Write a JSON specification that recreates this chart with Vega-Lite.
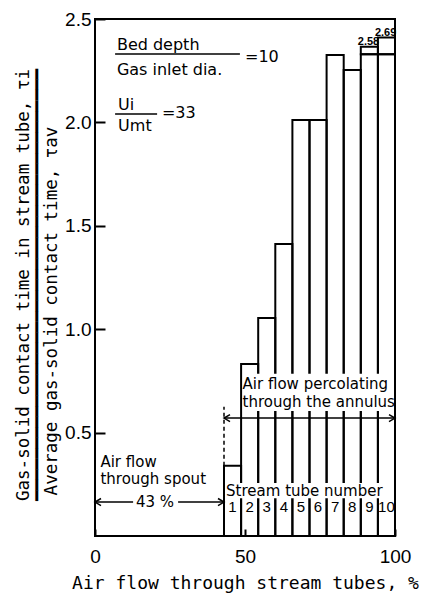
{
  "$schema": "https://vega.github.io/schema/vega-lite/v6.json",
  "width": 300,
  "height": 517,
  "autosize": {"type": "none"},
  "padding": {"left": 95, "top": 19, "right": 28, "bottom": 59},
  "background": "white",
  "config": {
    "view": {"stroke": "black", "strokeWidth": 2},
    "axis": {"grid": false, "domain": false, "tickColor": "black", "labelColor": "black", "titleColor": "black", "tickWidth": 2}
  },
  "datasets": {
    "tubes": [
      {"tube": 1, "x0": 43.0, "x1": 48.7, "tau": 0.34, "shown": 0.34},
      {"tube": 2, "x0": 48.7, "x1": 54.4, "tau": 0.832, "shown": 0.832},
      {"tube": 3, "x0": 54.4, "x1": 60.1, "tau": 1.054, "shown": 1.054},
      {"tube": 4, "x0": 60.1, "x1": 65.8, "tau": 1.412, "shown": 1.412},
      {"tube": 5, "x0": 65.8, "x1": 71.5, "tau": 2.012, "shown": 2.012},
      {"tube": 6, "x0": 71.5, "x1": 77.2, "tau": 2.012, "shown": 2.012},
      {"tube": 7, "x0": 77.2, "x1": 82.9, "tau": 2.326, "shown": 2.326},
      {"tube": 8, "x0": 82.9, "x1": 88.6, "tau": 2.253, "shown": 2.253},
      {"tube": 9, "x0": 88.6, "x1": 94.3, "tau": 2.58, "shown": 2.33},
      {"tube": 10, "x0": 94.3, "x1": 100.0, "tau": 2.69, "shown": 2.33}
    ],
    "breaks": [
      {"tube": 9, "x0": 88.6, "x1": 94.3, "lo": 2.33, "hi": 2.366, "label": "2.58"},
      {"tube": 10, "x0": 94.3, "x1": 100.0, "lo": 2.33, "hi": 2.41, "label": "2.69"}
    ],
    "bands": [
      {"x0": 49.3, "x1": 99.4, "y0": 0.605, "y1": 0.785},
      {"x0": 43.7, "x1": 99.4, "y0": 0.182, "y1": 0.256}
    ],
    "hlines": [
      {"x": 6.7, "x2": 48.3, "y": 2.331},
      {"x": 6.7, "x2": 20.7, "y": 2.041},
      {"x": 0, "x2": 12.7, "y": 0.164},
      {"x": 27.7, "x2": 43, "y": 0.164},
      {"x": 43, "x2": 100, "y": 0.57}
    ],
    "vlines": [
      {"x": 43, "y": 0.34, "y2": 0.625}
    ],
    "heads": [
      {"x": 0, "y": 0.164, "dir": "left"},
      {"x": 43, "y": 0.164, "dir": "right"},
      {"x": 43, "y": 0.57, "dir": "left"},
      {"x": 100, "y": 0.57, "dir": "right"}
    ],
    "notes16": [
      {"t": "Bed depth", "x": 7.3, "y": 2.35},
      {"t": "Gas inlet dia.", "x": 7.3, "y": 2.229},
      {"t": "=10", "x": 50.0, "y": 2.292},
      {"t": "Ui", "x": 7.7, "y": 2.06},
      {"t": "Umt", "x": 7.7, "y": 1.958},
      {"t": "=33", "x": 22.3, "y": 2.021}
    ],
    "notes15": [
      {"t": "Air flow", "x": 1.8, "y": 0.334},
      {"t": "through spout", "x": 1.8, "y": 0.251},
      {"t": "Air flow percolating", "x": 49.2, "y": 0.711},
      {"t": "through the annulus", "x": 49.2, "y": 0.624},
      {"t": "Stream tube number", "x": 43.7, "y": 0.193}
    ],
    "centered": [
      {"t": "43 %", "x": 20, "y": 0.164}
    ]
  },
  "layer": [
    {
      "data": {"name": "tubes"},
      "mark": {"type": "rect", "fillOpacity": 0, "stroke": "black", "strokeWidth": 2},
      "encoding": {
        "x": {
          "field": "x0", "type": "quantitative",
          "scale": {"domain": [0, 100], "nice": false},
          "axis": {
            "values": [0, 50, 100], "offset": -7, "tickSize": 7, "labelPadding": 11, "labelFlush": false,
            "labelFont": "Liberation Sans", "labelFontSize": 19,
            "title": "Air flow through stream tubes, %",
            "titleFont": "DejaVu Sans Mono", "titleFontSize": 18, "titleFontWeight": "normal",
            "titleBaseline": "alphabetic", "titleY": 59
          }
        },
        "x2": {"field": "x1"},
        "y": {
          "field": "shown", "type": "quantitative",
          "scale": {"domain": [0, 2.5], "nice": false},
          "axis": {
            "values": [0.5, 1, 1.5, 2, 2.5], "format": ".1f", "offset": -10, "tickSize": 10, "labelPadding": 4,
            "labelFont": "Liberation Sans", "labelFontSize": 19,
            "title": ["Gas-solid contact time in stream tube, τi", "━━━━━━━━━━━━━━━━━━━━━━━━━━━━━━━━━━━━━━━━━", "Average gas-solid contact time, τav⠀⠀⠀⠀"],
            "titleFont": "DejaVu Sans Mono", "titleFontSize": 17.5, "titleFontWeight": "normal",
            "titleLineHeight": 14, "titleAngle": -90, "titleBaseline": "alphabetic", "titleAlign": "center",
            "titleX": -77, "titleY": 265.5
          }
        },
        "y2": {"datum": 0}
      }
    },
    {
      "data": {"name": "breaks"},
      "mark": {"type": "rect", "fillOpacity": 0, "stroke": "black", "strokeWidth": 2},
      "encoding": {
        "x": {"field": "x0", "type": "quantitative", "scale": {"domain": [0, 100], "nice": false}},
        "x2": {"field": "x1"},
        "y": {"field": "lo", "type": "quantitative", "scale": {"domain": [0, 2.5], "nice": false}},
        "y2": {"field": "hi"}
      }
    },
    {
      "data": {"name": "breaks"},
      "mark": {"type": "text", "align": "left", "baseline": "alphabetic", "dx": -3, "dy": -2, "font": "Liberation Sans", "fontSize": 11, "fontWeight": "bold", "color": "black"},
      "encoding": {
        "x": {"field": "x0", "type": "quantitative", "scale": {"domain": [0, 100], "nice": false}},
        "y": {"field": "hi", "type": "quantitative", "scale": {"domain": [0, 2.5], "nice": false}},
        "text": {"field": "label"}
      }
    },
    {
      "data": {"name": "bands"},
      "mark": {"type": "rect", "fill": "white", "strokeWidth": 0},
      "encoding": {
        "x": {"field": "x0", "type": "quantitative", "scale": {"domain": [0, 100], "nice": false}},
        "x2": {"field": "x1"},
        "y": {"field": "y0", "type": "quantitative", "scale": {"domain": [0, 2.5], "nice": false}},
        "y2": {"field": "y1"}
      }
    },
    {
      "data": {"name": "hlines"},
      "mark": {"type": "rule", "color": "black", "strokeWidth": 1.5},
      "encoding": {
        "x": {"field": "x", "type": "quantitative", "scale": {"domain": [0, 100], "nice": false}},
        "x2": {"field": "x2"},
        "y": {"field": "y", "type": "quantitative", "scale": {"domain": [0, 2.5], "nice": false}}
      }
    },
    {
      "data": {"name": "vlines"},
      "mark": {"type": "rule", "color": "black", "strokeWidth": 1.5, "strokeDash": [4, 3]},
      "encoding": {
        "x": {"field": "x", "type": "quantitative", "scale": {"domain": [0, 100], "nice": false}},
        "y": {"field": "y", "type": "quantitative", "scale": {"domain": [0, 2.5], "nice": false}},
        "y2": {"field": "y2"}
      }
    },
    {
      "data": {"name": "heads"},
      "mark": {"type": "point", "filled": false, "stroke": "black", "strokeWidth": 1.5, "size": 144, "opacity": 1},
      "encoding": {
        "x": {"field": "x", "type": "quantitative", "scale": {"domain": [0, 100], "nice": false}},
        "y": {"field": "y", "type": "quantitative", "scale": {"domain": [0, 2.5], "nice": false}},
        "shape": {"field": "dir", "type": "nominal", "scale": {"domain": ["left", "right"], "range": ["M1,-0.6L0,0L1,0.6", "M-1,-0.6L0,0L-1,0.6"]}, "legend": null}
      }
    },
    {
      "data": {"name": "notes16"},
      "mark": {"type": "text", "align": "left", "baseline": "alphabetic", "font": "DejaVu Sans", "fontSize": 16, "color": "black"},
      "encoding": {
        "x": {"field": "x", "type": "quantitative", "scale": {"domain": [0, 100], "nice": false}},
        "y": {"field": "y", "type": "quantitative", "scale": {"domain": [0, 2.5], "nice": false}},
        "text": {"field": "t"}
      }
    },
    {
      "data": {"name": "notes15"},
      "mark": {"type": "text", "align": "left", "baseline": "alphabetic", "font": "DejaVu Sans", "fontSize": 15, "color": "black"},
      "encoding": {
        "x": {"field": "x", "type": "quantitative", "scale": {"domain": [0, 100], "nice": false}},
        "y": {"field": "y", "type": "quantitative", "scale": {"domain": [0, 2.5], "nice": false}},
        "text": {"field": "t"}
      }
    },
    {
      "data": {"name": "centered"},
      "mark": {"type": "text", "align": "center", "baseline": "middle", "font": "DejaVu Sans", "fontSize": 15, "color": "black"},
      "encoding": {
        "x": {"field": "x", "type": "quantitative", "scale": {"domain": [0, 100], "nice": false}},
        "y": {"field": "y", "type": "quantitative", "scale": {"domain": [0, 2.5], "nice": false}},
        "text": {"field": "t"}
      }
    },
    {
      "data": {"name": "tubes"},
      "mark": {"type": "text", "align": "center", "baseline": "middle", "dx": 8.5, "font": "Liberation Sans", "fontSize": 15, "color": "black"},
      "encoding": {
        "x": {"field": "x0", "type": "quantitative", "scale": {"domain": [0, 100], "nice": false}},
        "y": {"datum": 0.138, "type": "quantitative", "scale": {"domain": [0, 2.5], "nice": false}},
        "text": {"field": "tube"}
      }
    }
  ]
}
